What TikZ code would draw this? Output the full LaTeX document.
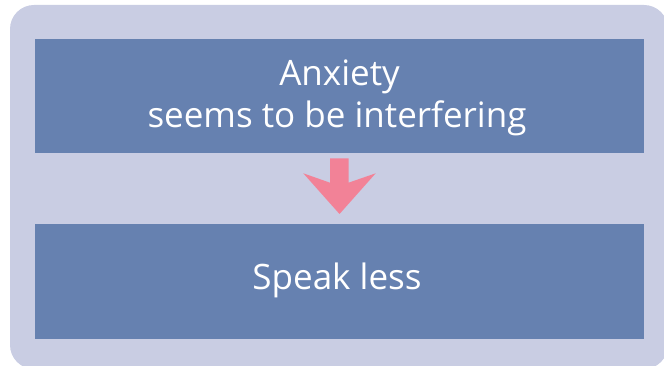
\documentclass[tikz,border=0pt]{standalone}
\usepackage{fontspec}
\setmainfont{Open Sans}
\definecolor{bgl}{HTML}{C9CDE3}
\definecolor{boxb}{HTML}{6681B0}
\definecolor{pinkar}{HTML}{F28297}
\begin{document}
\begin{tikzpicture}[x=1pt,y=-1pt,
  panel/.style={fill=bgl,draw=none,rounded corners=24pt},
  bluebox/.style={fill=boxb,draw=none},
  lbl/.style={text=white,font=\fontsize{35}{42}\selectfont,anchor=base,inner sep=0pt}]
\useasboundingbox (0,0) rectangle (664,366);
\begin{scope}
\clip (0,0) rectangle (664,366);
\fill[panel] (10,5) rectangle (668,369);
\end{scope}
\fill[bluebox] (35,39) rectangle (644,153.5);
\fill[bluebox] (35,224) rectangle (644,339);
\node[lbl] (t1) at (339.5,86) {Anxiety};
\node[lbl] (t2) at (337,128) {seems to be interfering};
\node[lbl] (t3) at (337,289) {Speak less};
\fill[pinkar] (330,158.3) -- (348.5,158.3) -- (348.5,182.7) -- (375.7,173.3) -- (339.5,214) -- (303.3,173.3) -- (330,182.7) -- cycle;
\end{tikzpicture}
\end{document}
